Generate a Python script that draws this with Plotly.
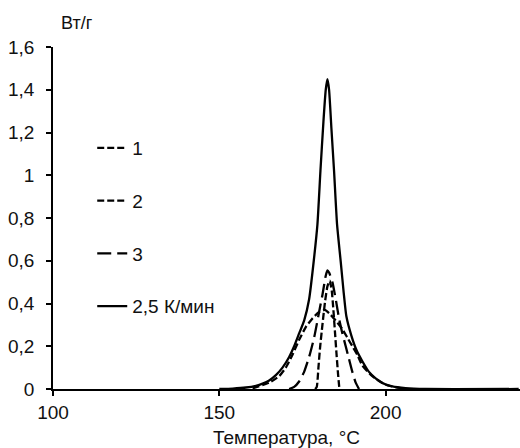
import plotly.graph_objects as go

# ---- data ----
solid_x = [150, 154, 158, 161, 163, 165, 167, 169, 171, 172.5, 174, 175.5, 177, 178.4, 179.5, 180.4,
           181.3, 182, 182.5, 183, 183.7, 184.5, 185.4, 186.6, 187.4, 188.2, 189.7, 191.3, 193, 195,
           197, 199, 202, 206, 212, 240]
solid_y = [0, 0.002, 0.007, 0.015, 0.025, 0.04, 0.065, 0.1, 0.15, 0.2, 0.26, 0.32, 0.42, 0.6, 0.77, 1.02,
           1.25, 1.40, 1.45, 1.40, 1.22, 1.02, 0.77, 0.58, 0.45, 0.34, 0.25, 0.18, 0.13, 0.08,
           0.05, 0.028, 0.012, 0.004, 0, 0]

c1_x = [178.8, 179.3, 179.8, 180.3, 181, 181.8, 182.5, 183.2, 183.8, 184.3, 184.8, 185.3, 185.7, 186.1]
c1_y = [0, 0.01, 0.10, 0.195, 0.30, 0.41, 0.48, 0.507, 0.46, 0.37, 0.26, 0.15, 0.07, 0.0]

c2_x = [160, 165, 168, 170, 172, 174, 176, 178, 180, 181.7, 183, 185, 187, 188.5, 190, 191.5, 193, 196, 200, 205]
c2_y = [0.003, 0.03, 0.06, 0.10, 0.16, 0.23, 0.29, 0.33, 0.36, 0.37, 0.355, 0.32, 0.28, 0.24, 0.20, 0.16, 0.11, 0.06, 0.02, 0.003]

c3_x = [171, 172.5, 174, 175.5, 177, 178.5, 180, 181, 182, 182.5, 183, 184, 185, 186, 187, 188, 189, 190, 191, 192]
c3_y = [0, 0.01, 0.035, 0.08, 0.15, 0.24, 0.36, 0.44, 0.53, 0.555, 0.545, 0.50, 0.42, 0.33, 0.26, 0.2, 0.14, 0.08, 0.03, 0.0]

names = ["1", "2", "3", "2,5 К/мин"]

x_ticks = [100, 150, 200]
x_ticklabels = ["100", "150", "200"]
y_ticks = [0, 0.2, 0.4, 0.6, 0.8, 1.0, 1.2, 1.4, 1.6]
y_ticklabels = ["0", "0,2", "0,4", "0,6", "0,8", "1", "1,2", "1,4", "1,6"]

FONT = "Liberation Sans, Arial, sans-serif"

fig = go.Figure()
series = [
    (c1_x, c1_y, "7px,3px"),
    (c2_x, c2_y, "7px,3px"),
    (c3_x, c3_y, "14px,6px"),
    (solid_x, solid_y, "solid"),
]
for i, (xs, ys, dash) in enumerate(series):
    fig.add_trace(go.Scatter(
        x=xs, y=ys, mode="lines", name=names[i], legendgroup=f"g{i}",
        line=dict(color="black", width=2.3, dash=dash, shape="spline", smoothing=0.5),
        legendrank=i + 1,
    ))

fig.update_layout(
    width=520, height=448,
    margin=dict(l=53, r=0, t=47, b=59, autoexpand=False),
    paper_bgcolor="white", plot_bgcolor="white",
    font=dict(family=FONT, size=19, color="#111111"),
    showlegend=True,
    legend=dict(x=0.084, y=0.76, xanchor="left", yanchor="top",
                bgcolor="rgba(0,0,0,0)", traceorder="grouped", tracegroupgap=25,
                font=dict(size=19), itemwidth=30),
    xaxis=dict(range=[100, 240.4], tickvals=x_ticks, ticktext=x_ticklabels,
               showgrid=False, zeroline=False, showline=True, linecolor="black", linewidth=1.6,
               ticks="outside", ticklen=5, tickcolor="black", tickwidth=1.6,
               title=dict(text="Температура, °C", standoff=11, font=dict(size=19))),
    yaxis=dict(range=[0, 1.6], tickvals=y_ticks, ticktext=y_ticklabels,
               showgrid=False, zeroline=False, showline=True, linecolor="black", linewidth=1.6,
               ticks="outside", ticklen=5, tickcolor="black", tickwidth=1.6,
               ticklabelstandoff=8),
    annotations=[dict(text="Вт/г", xref="x", yref="paper", x=100, y=1.07,
                      xanchor="left", xshift=6, yanchor="middle", showarrow=False,
                      font=dict(size=18))],
)

fig.write_html("out.html")
